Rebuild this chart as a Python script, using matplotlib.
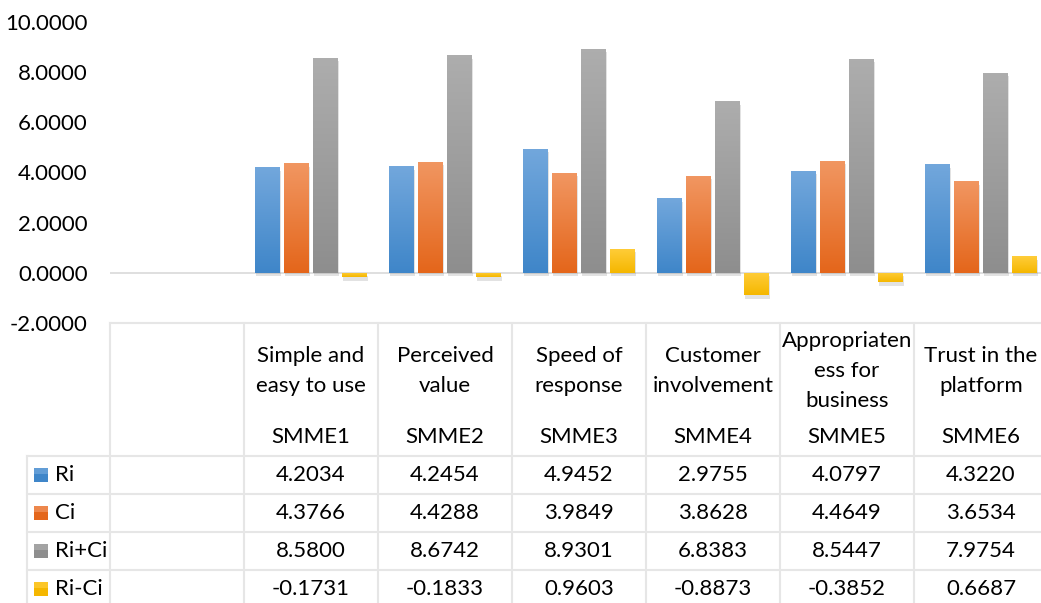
import numpy as np
import matplotlib.pyplot as plt
import matplotlib.patheffects as pe
from matplotlib.colors import LinearSegmentedColormap

plt.rcParams["font.family"] = ["Lato", "DejaVu Sans"]

# data
codes = ["SMME1", "SMME2", "SMME3", "SMME4", "SMME5", "SMME6"]
names = [
    "Simple and\neasy to use",
    "Perceived\nvalue",
    "Speed of\nresponse",
    "Customer\ninvolvement",
    "Appropriaten\ness for\nbusiness",
    "Trust in the\nplatform",
]
series_names = ["Ri", "Ci", "Ri+Ci", "Ri-Ci"]
ri = [4.2034, 4.2454, 4.9452, 2.9755, 4.0797, 4.3220]
ci = [4.3766, 4.4288, 3.9849, 3.8628, 4.4649, 3.6534]
ri_plus_ci = [8.5800, 8.6742, 8.9301, 6.8383, 8.5447, 7.9754]
ri_minus_ci = [-0.1731, -0.1833, 0.9603, -0.8873, -0.3852, 0.6687]
series = [ri, ci, ri_plus_ci, ri_minus_ci]

# (top, bottom) gradient colours per series
colors = [
    ("#72a7dc", "#3f86c9"),
    ("#f19661", "#e4661b"),
    ("#adadad", "#8e8e8e"),
    ("#ffcd3a", "#f5b700"),
]

W, H = 1041, 603
fig = plt.figure(figsize=(W / 100, H / 100), dpi=100)

# layout in pixels
x0 = 110          # left edge of plot / table body
colw = 134        # width of one category column
ncat = len(codes) + 1   # first column is empty
y_top, y_bot = 22, 323  # pixel rows of 10 and -2

ax = fig.add_axes([x0 / W, 1 - y_bot / H, ncat * colw / W, (y_bot - y_top) / H])
for s in ax.spines.values():
    s.set_visible(False)
ax.set_xticks([])
ticks = np.arange(-2, 10.1, 2)
ax.set_yticks(ticks)
ax.set_yticklabels([f"{v:.4f}" for v in ticks], fontsize=16)
ax.tick_params(axis="y", length=0, pad=16)
ax.axhline(0, color="#d9d9d9", lw=1.2, zorder=1)

pos = np.arange(1, ncat)
bw = 25 / colw
step = 29 / colw
shadow = [pe.SimplePatchShadow(offset=(0.5, -2.5), shadow_rgbFace="#606060", alpha=0.18),
          pe.Normal()]
for k, (vals, (ctop, cbot)) in enumerate(zip(series, colors)):
    xs = pos + (k - 1.5) * step
    bars = ax.bar(xs, vals, width=bw, color=cbot, zorder=2, path_effects=shadow)
    cmap = LinearSegmentedColormap.from_list(f"g{k}", [cbot, ctop])
    grad = np.linspace(0, 1, 64).reshape(-1, 1)
    for b in bars:
        x, y = b.get_x(), b.get_y()
        w, h = b.get_width(), b.get_height()
        lo, hi = min(y, y + h), max(y, y + h)
        im = ax.imshow(grad, extent=[x, x + w, lo, hi], origin="lower", cmap=cmap,
                       aspect="auto", zorder=3, interpolation="bilinear")
        im.set_clip_path(b)
ax.set_xlim(-0.5, ncat - 0.5)
ax.set_ylim(-2, 10)

# data table drawn in pixel space
tab = fig.add_axes([0, 0, 1, 1])
tab.set_xlim(0, W)
tab.set_ylim(H, 0)
tab.axis("off")
grid_c = "#e6e6e6"
row_y = [456, 494, 532, 570, 608]
col_x = [x0 + i * colw for i in range(ncat + 1)]
tab.plot([x0, W], [y_bot, y_bot], color=grid_c, lw=1.5)
for yy in row_y[:-1]:
    tab.plot([27, W], [yy, yy], color=grid_c, lw=1.5)
tab.plot([27, 27], [row_y[0], H], color=grid_c, lw=1.5)
for xx in col_x[:-1]:
    tab.plot([xx, xx], [y_bot, H], color=grid_c, lw=1.5)

fs = 16
for i, (nm, cd) in enumerate(zip(names, codes)):
    cx = x0 + (i + 1.5) * colw
    tab.text(cx, 371, nm, ha="center", va="center", fontsize=fs, linespacing=1.62)
    tab.text(cx, 437, cd, ha="center", va="center", fontsize=fs)
    for r, vals in enumerate(series):
        tab.text(cx, (row_y[r] + row_y[r + 1]) / 2, f"{vals[i]:.4f}",
                 ha="center", va="center", fontsize=fs)

for r, (nm, (ctop, cbot)) in enumerate(zip(series_names, colors)):
    cy = (row_y[r] + row_y[r + 1]) / 2
    tab.add_patch(plt.Rectangle((34, cy - 7), 14, 14, color=cbot, lw=0))
    tab.add_patch(plt.Rectangle((34, cy - 7), 14, 6, color=ctop, lw=0, alpha=0.7))
    tab.text(55, cy, nm, ha="left", va="center", fontsize=fs)

fig.savefig("out.png", dpi=100)
